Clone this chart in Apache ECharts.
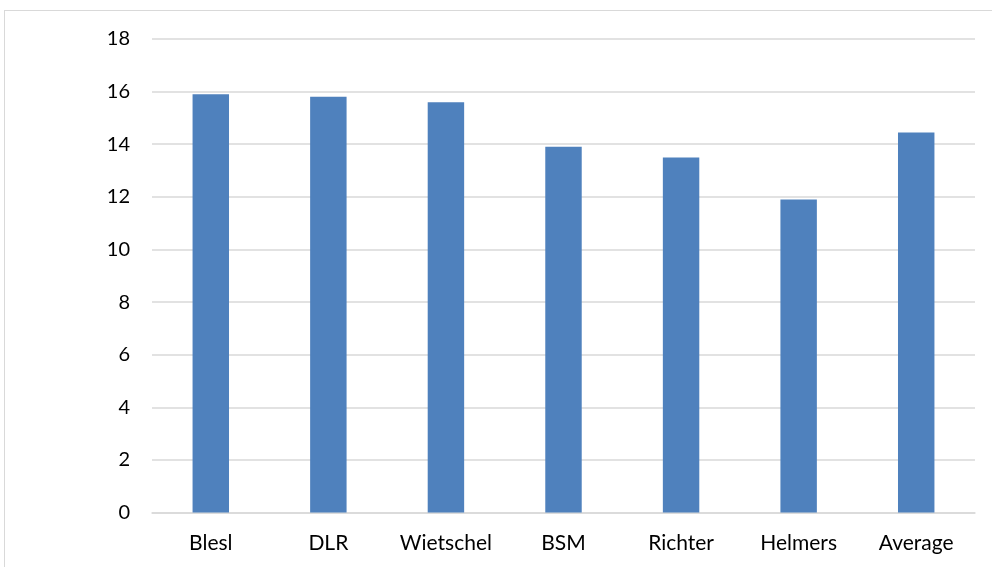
<!DOCTYPE html>
<html>
<head>
<meta charset="utf-8">
<script src="https://cdn.jsdelivr.net/npm/echarts@6/dist/echarts.min.js"></script>
<style>
html,body{margin:0;padding:0;background:#fff;overflow:hidden;}
#frame{position:absolute;left:4px;top:10px;width:1000px;height:600px;border:1px solid #d9d9d9;box-sizing:border-box;}
#chart{position:absolute;left:0;top:0;width:992px;height:567px;}
</style>
</head>
<body>
<div id="frame"></div>
<div id="chart"></div>
<script>
const categories = ["Blesl", "DLR", "Wietschel", "BSM", "Richter", "Helmers", "Average"];
const values = [15.9, 15.8, 15.6, 13.9, 13.5, 11.9, 14.45];

const chart = echarts.init(document.getElementById('chart'));
chart.setOption({
  animation: false,
  grid: {left: 152, right: 17, top: 39, bottom: 54.5},
  xAxis: {
    type: 'category',
    data: categories,
    axisLine: {lineStyle: {color: '#d9d9d9', width: 1.5}},
    axisTick: {show: false},
    axisLabel: {color: '#000', fontFamily: 'Lato', fontSize: 21, margin: 20, interval: 0, hideOverlap: false}
  },
  yAxis: {
    type: 'value',
    min: 0, max: 18, interval: 2,
    axisLine: {show: false},
    axisTick: {show: false},
    splitLine: {lineStyle: {color: '#d9d9d9', width: 1.5}},
    axisLabel: {color: '#000', fontFamily: 'Lato', fontSize: 20, margin: 22}
  },
  series: [{
    type: 'bar',
    data: values,
    barWidth: '31%',
    itemStyle: {color: '#4f81bd'}
  }]
});
</script>
</body>
</html>
